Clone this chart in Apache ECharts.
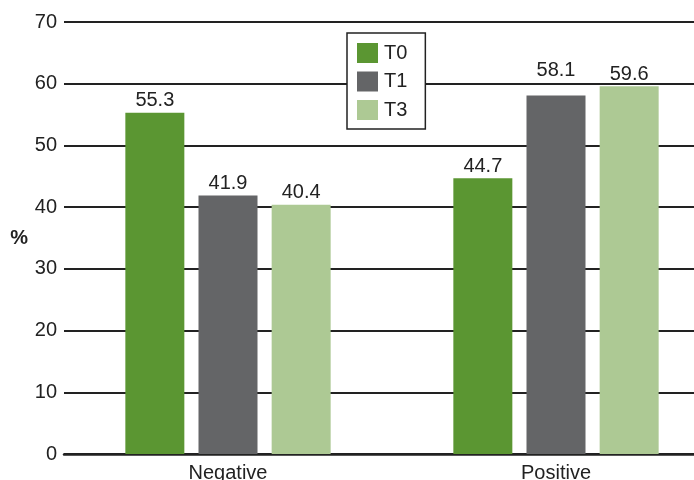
<!DOCTYPE html>
<html><head><meta charset="utf-8">
<script src="https://cdn.jsdelivr.net/npm/echarts@6/dist/echarts.min.js"></script>
<style>html,body{margin:0;padding:0;background:#fff}#c{width:694px;height:480px}</style>
</head><body><div id="c"></div>
<script>
const categories = ['Negative', 'Positive'];
const seriesNames = ['T0', 'T1', 'T3'];
const valuesT0 = [55.3, 44.7];
const valuesT1 = [41.9, 58.1];
const valuesT3 = [40.4, 59.6];
const colors = ['#5b9632', '#646567', '#adc994'];
const allValues = [valuesT0, valuesT1, valuesT3];

const chart = echarts.init(document.getElementById('c'), null, {renderer: 'canvas'});
chart.setOption({
  animation: false,
  textStyle: {fontFamily: 'Liberation Sans, Arial, sans-serif'},
  grid: {left: 64, width: 656, top: 22, bottom: 26, containLabel: false, outerBoundsMode: 'none'},
  legend: {
    orient: 'vertical', left: 347, top: 33,
    data: seriesNames,
    icon: 'rect', itemWidth: 21, itemHeight: 20, itemGap: 8.5,
    backgroundColor: '#fff', borderColor: '#222', borderWidth: 1.5,
    padding: [10, 18, 9, 10],
    textStyle: {fontSize: 20, color: '#222', padding: [0, 0, 0, 1]}
  },
  xAxis: {
    type: 'category', data: categories,
    axisLine: {lineStyle: {color: '#222', width: 2.5}},
    axisTick: {show: false},
    axisLabel: {fontSize: 20, color: '#222', margin: 9}
  },
  yAxis: {
    type: 'value', min: 0, max: 70, interval: 10,
    name: '%', nameLocation: 'middle', nameRotate: 0, nameGap: 36,
    nameTextStyle: {fontSize: 20, fontWeight: 'bold', color: '#222'},
    axisLine: {show: false}, axisTick: {show: false},
    axisLabel: {fontSize: 20, color: '#222', margin: 7},
    splitLine: {lineStyle: {color: '#222', width: 2}}
  },
  series: seriesNames.map((n, i) => ({
    name: n, type: 'bar',
    data: allValues[i].map((v, j) => (i === 1 && j === 1) ? {value: v, label: {distance: 15}} : v),
    barWidth: 59, barGap: '24%',
    itemStyle: {color: colors[i]},
    label: {show: true, position: 'top', distance: 2, fontSize: 20, color: '#222'}
  }))
});
</script></body></html>
